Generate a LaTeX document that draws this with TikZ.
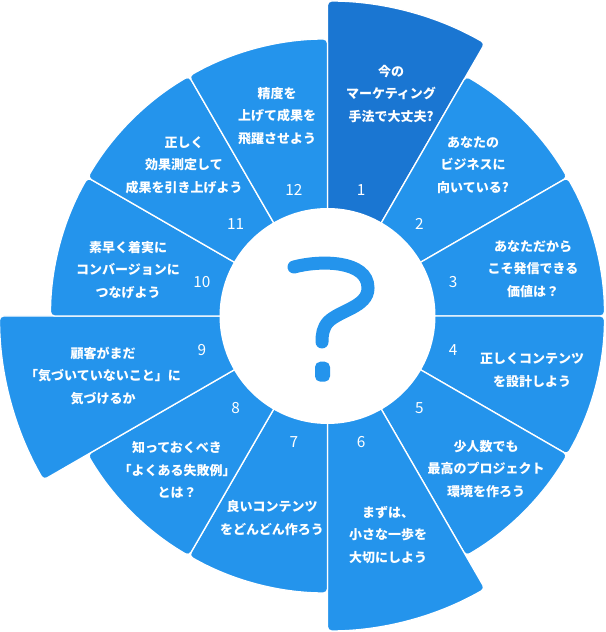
\documentclass[tikz,border=0pt]{standalone}
\usepackage{fontspec}
\newfontfamily\jpfont{Noto Sans CJK JP}
\definecolor{secblue}{RGB}{36,148,236}
\definecolor{secdark}{RGB}{26,118,210}
\tikzset{
  sector/.style={draw=white, line width=1pt, rounded corners=3pt},
  qtext/.style={text=white, align=center, inner sep=0pt,
    font=\jpfont\bfseries\fontsize{9.75}{16.9}\selectfont},
  qnum/.style={text=white, inner sep=0pt, font=\jpfont\fontsize{11.5}{12}\selectfont}
}

\begin{document}
\begin{tikzpicture}[x=0.75pt, y=0.75pt]
  \useasboundingbox (0,0) rectangle (606,632);
  \coordinate (C) at (327.5,316);

  % Sectores
  \foreach \k/\r/\c in {1/315/secdark, 2/277/secblue, 3/277/secblue, 4/277/secblue,
      5/277/secblue, 6/315/secblue, 7/277/secblue, 8/277/secblue, 9/328/secblue,
      10/277/secblue, 11/277/secblue, 12/277/secblue} {
    \pgfmathsetmacro{\a}{120-30*\k}
    \path[sector, fill=\c] (C) -- ++(\a:\r) arc[start angle=\a, end angle=\a-30, radius=\r] -- cycle;
  }

  % Círculo central
  \node[circle, fill=white, minimum size=162pt, inner sep=0pt] (hub) at (C) {};

  % Signo de interrogación
  \draw[secblue, line width=9.75pt, line cap=round] (294,365)
    .. controls (320,372) and (368,372) .. (368,344)
    .. controls (368,325) and (340,322) .. (328,310)
    .. controls (323,304) and (322,298) .. (322,290);
  \fill[secblue, rounded corners=4pt] (315,250.3) rectangle (330,270.3);

  % Números
  \foreach \k [evaluate=\k as \b using 105-30*\k] in {1,...,12} {
    \path (C) ++(\b:130) node[qnum] (n\k) {\k};
  }

  % Preguntas
  \node[qtext] (t1) at (391,538) {今の\\マーケティング\\手法で大丈夫?};
  \node[qtext] (t2) at (473,467) {あなたの\\ビジネスに\\向いている?};
  \node[qtext] (t3) at (533,363) {あなただから\\こそ発信できる\\価値は？};
  \node[qtext] (t4) at (532,262) {正しくコンテンツ\\を設計しよう};
  \node[qtext] (t5) at (486,163) {少人数でも\\最高のプロジェクト\\環境を作ろう};
  \node[qtext] (t6) at (388,97) {まずは、\\小さな一歩を\\大切にしよう};
  \node[qtext] (t7) at (272,114) {良いコンテンツ\\をどんどん作ろう};
  \node[qtext] (t8) at (177,162) {知っておくべき\\「よくある失敗例」\\とは？};
  \node[qtext] (t9) at (103,256) {顧客がまだ\\「気づいていないこと」に\\気づけるか};
  \node[qtext] (t10) at (128,362) {素早く着実に\\コンバージョンに\\つなげよう};
  \node[qtext] (t11) at (184,467) {正しく\\効果測定して\\成果を引き上げよう};
  \node[qtext] (t12) at (277,516) {精度を\\上げて成果を\\飛躍させよう};
\end{tikzpicture}
\end{document}
